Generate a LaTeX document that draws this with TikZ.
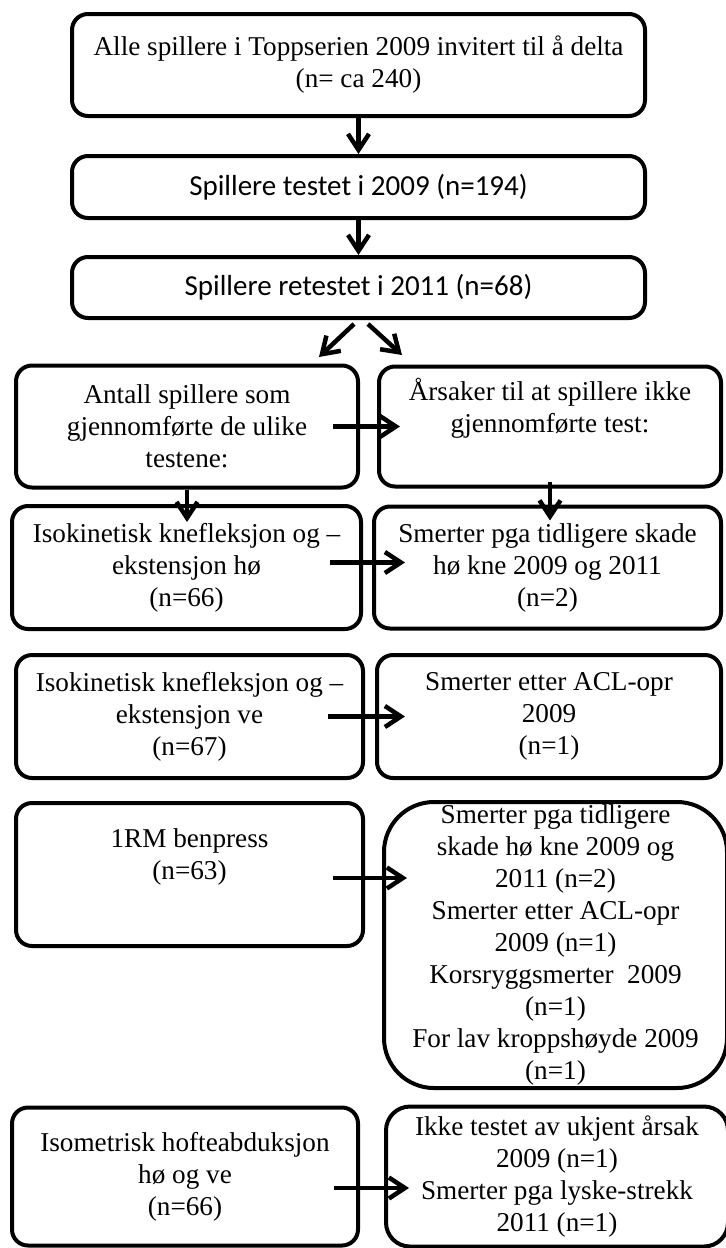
\documentclass[tikz,border=0pt]{standalone}
\usepackage{fontspec}
\setmainfont{Liberation Serif}
\newfontfamily\calfont{Carlito}
\usepackage{tikz}
\usetikzlibrary{arrows.meta}

\tikzset{
  box/.style={draw, line width=2pt, rounded corners=8pt, align=center, inner sep=0pt,
    font=\fontsize{13.6}{16}\selectfont},
  calbox/.style={box, font=\calfont\fontsize{14.5}{17}\selectfont},
  arr/.style={line width=2.25pt, -{Straight Barb[length=8pt,width=10.5pt]}},
}

\begin{document}
\begin{tikzpicture}[x=0.5pt, y=-0.5pt]
\useasboundingbox (0,0) rectangle (725,1248);

% top column
\node[box, minimum width=286.5pt, minimum height=51pt] (b1) at (358.5,65)
  {Alle spillere i Toppserien 2009 invitert til å delta\\(n= ca 240)};
\node[calbox, minimum width=286.5pt, minimum height=31pt] (b2) at (358.5,187)
  {Spillere testet i 2009 (n=194)};
\node[calbox, minimum width=286.5pt, minimum height=30.5pt] (b3) at (358.5,287.5)
  {Spillere retestet i 2011 (n=68)};

\coordinate (d1) at (319,357);
\coordinate (d2) at (402,355);

% left column
\node[box, minimum width=171pt, minimum height=61pt] (l4) at (187,426.5)
  {Antall spillere som\\gjennomførte de ulike\\testene:};
\node[box, minimum width=174.5pt, minimum height=61.5pt] (l5) at (186.5,567.5)
  {Isokinetisk knefleksjon og --\\ekstensjon hø\\(n=66)};
\node[box, minimum width=173.5pt, minimum height=61.5pt] (l6) at (189.5,716.5)
  {Isokinetisk knefleksjon og --\\ekstensjon ve\\(n=67)};
\node[box, minimum width=173.5pt, minimum height=71.5pt] (l7) at (189.5,874.5)
  {1RM benpress\\(n=63)\\\strut};
\node[box, minimum width=173pt, minimum height=69pt] (l8) at (185,1176.5)
  {Isometrisk hofteabduksjon\\hø og ve\\(n=66)};

% right column
\node[box, minimum width=171pt, minimum height=60pt] (r4) at (550,426.5)
  {Årsaker til at spillere ikke\\gjennomførte test:\\\strut};
\node[box, minimum width=173.5pt, minimum height=61pt] (r5) at (547.5,567.5)
  {Smerter pga tidligere skade\\hø kne 2009 og 2011\\(n=2)};
\node[box, minimum width=172pt, minimum height=61.5pt] (r6) at (549,716.5)
  {Smerter etter ACL-opr\\2009\\(n=1)};
\node[box, rounded corners=25pt, minimum width=171.5pt, minimum height=143pt] (r7) at (555.5,945)
  {Smerter pga tidligere\\skade hø kne 2009 og\\2011 (n=2)\\Smerter etter ACL-opr\\2009 (n=1)\\Korsryggsmerter~~2009\\(n=1)\\For lav kroppshøyde 2009\\(n=1)};
\node[box, rounded corners=12pt, minimum width=171pt, minimum height=70pt] (r8) at (557,1176.5)
  {Ikke testet av ukjent årsak\\2009 (n=1)\\Smerter pga lyske-strekk\\2011 (n=1)};

\coordinate (e7) at (l7.east -| r7.west);

\draw[arr] (b1.south) -- (b2.north);
\draw[arr] (b2.south) -- (b3.north);
\draw[arr] ([xshift=-2.25pt,yshift=-2pt]b3.south) -- (d1);
\draw[arr] ([xshift=4.75pt,yshift=-2pt]b3.south) -- (d2);

\draw[arr] (l4.south) -- ([yshift=-9pt]l4.south |- l5.north);
\draw[arr] ([yshift=3.5pt]r4.south) -- ([yshift=-8pt]r4.south |- r5.north);

\draw[arr] ([xshift=-13.5pt]l4.east) -- ([xshift=11.5pt]r4.west);
\draw[arr] ([xshift=-16.5pt,yshift=2.5pt]l5.east) -- ([xshift=16.5pt,yshift=2.5pt]r5.west);
\draw[arr] ([xshift=-18.5pt]l6.east) -- ([xshift=15pt]r6.west);
\draw[arr] ([xshift=-16pt,yshift=-1.75pt]l7.east) -- ([xshift=12.5pt,yshift=-1.75pt]e7);
\draw[arr] ([xshift=-13pt,yshift=-5.75pt]l8.east) -- ([xshift=12.5pt,yshift=-5.75pt]r8.west);
\end{tikzpicture}
\end{document}
